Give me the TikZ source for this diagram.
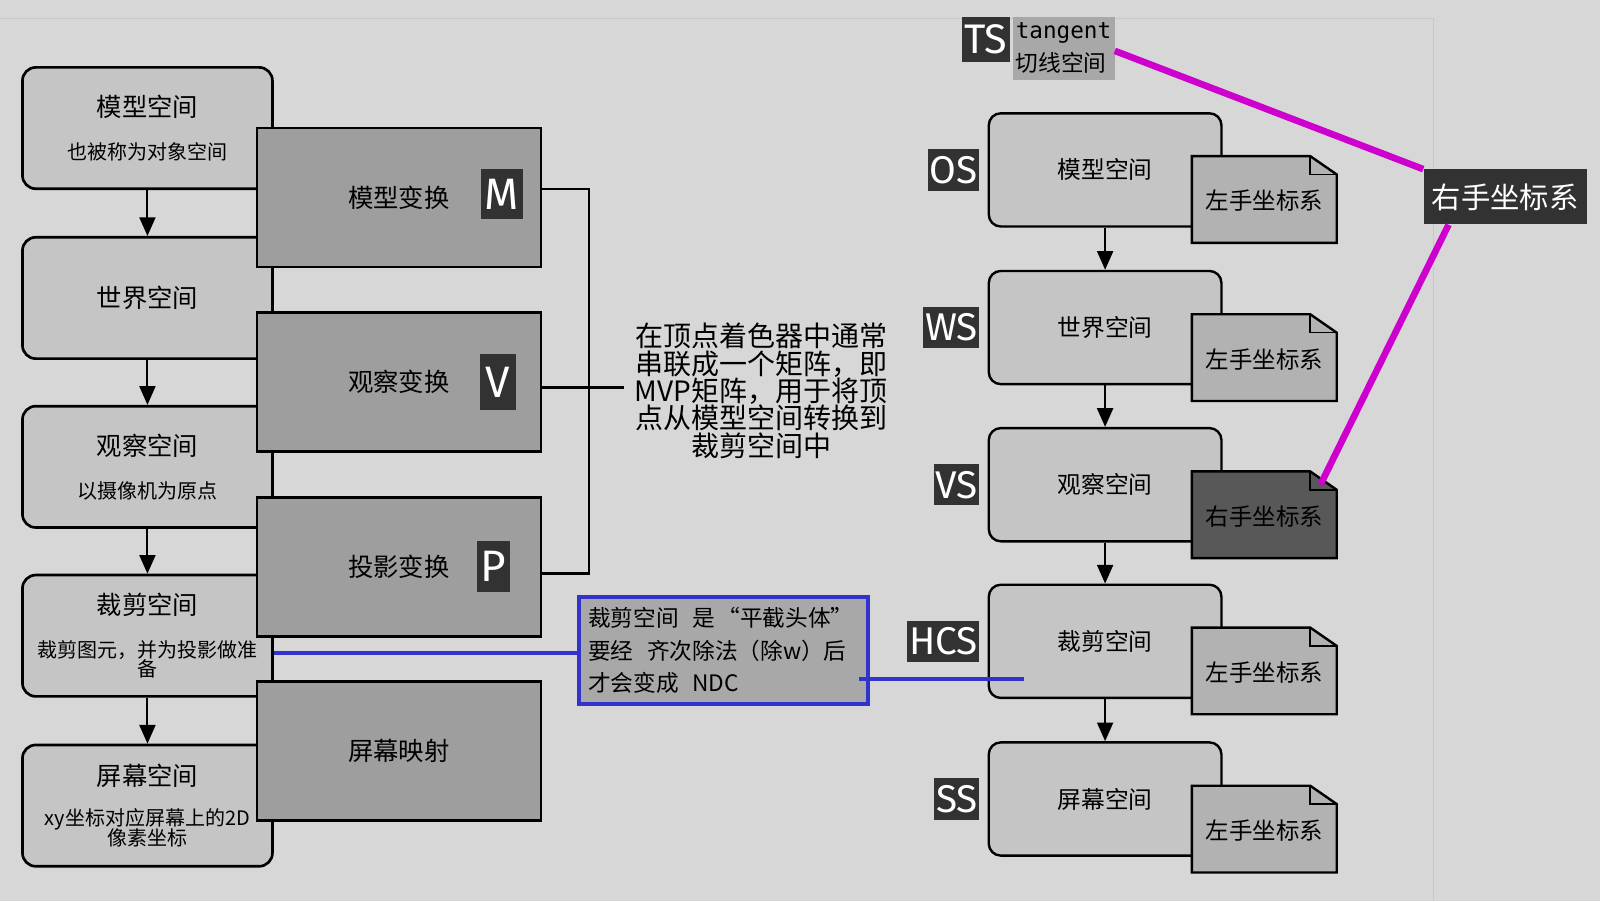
\documentclass[tikz,border=0pt]{standalone}
\usepackage{fontspec}
\setmainfont{Noto Sans CJK SC}
\newfontfamily\badgefont{Fira Sans}
\newfontfamily\tangentfont{DejaVu Sans Mono}
\usetikzlibrary{arrows.meta,positioning}
\lineskiplimit=-100pt

\definecolor{pagegray}{RGB}{215,215,215}
\definecolor{framegray}{RGB}{200,200,200}
\definecolor{boxgray}{RGB}{197,197,197}
\definecolor{xformgray}{RGB}{158,158,158}
\definecolor{badgegray}{RGB}{50,50,50}
\definecolor{docgray}{RGB}{178,178,178}
\definecolor{docdark}{RGB}{88,88,88}
\definecolor{notegray}{RGB}{168,168,168}
\definecolor{linkblue}{RGB}{50,50,205}
\definecolor{linkmagenta}{RGB}{205,0,205}

\begin{document}
\begin{tikzpicture}[x=0.7653pt,y=-0.7653pt,
  spacebox/.style={draw,line width=2pt,rounded corners=10pt,fill=boxgray,minimum width=187.5pt,minimum height=91pt,align=center,font=\fontsize{15pt}{15pt}\selectfont},
  xformbox/.style={draw,line width=2pt,fill=xformgray,minimum width=212.8pt,minimum height=104.1pt,font=\fontsize{19pt}{19pt}\selectfont},
  letterbadge/.style={fill=badgegray,text=white,font=\badgefont\fontsize{33pt}{33pt}\selectfont,inner xsep=3pt,inner ysep=1.5pt,minimum height=38pt},
  tagbadge/.style={fill=badgegray,text=white,font=\badgefont\fontsize{29pt}{29pt}\selectfont,inner sep=1.2pt,minimum height=31pt},
  rspacebox/.style={draw,line width=1.8pt,rounded corners=9pt,fill=boxgray,minimum width=174.5pt,minimum height=84.9pt,font=\fontsize{17.8pt}{17.8pt}\selectfont},
  docpage/.style={draw,line width=1.8pt,fill=#1},
  flow/.style={-{Triangle[length=14pt,width=12pt]},line width=1.5pt},
  bluelink/.style={linkblue,line width=3pt},
  pinklink/.style={linkmagenta,line width=5pt}]
  \useasboundingbox (0,0) rectangle (1568,883);
  \fill[pagegray] (0,0) rectangle (1568,883);
  \draw[framegray,line width=0.8pt] (0,18) -- (1405,18) -- (1405,883);

  % pipeline: spaces
  \node[spacebox] (l1) at (144.5,125.5) {{\fontsize{19pt}{19pt}\selectfont 模型空间}\\[17pt]也被称为对象空间};
  \node[spacebox,font=\fontsize{19pt}{19pt}\selectfont] (l2) at (144.5,292) {世界空间};
  \node[spacebox] (l3) at (144.5,457.5) {{\fontsize{19pt}{19pt}\selectfont 观察空间}\\[17pt]以摄像机为原点};
  \node[spacebox] (l4) at (144.5,623) {{\fontsize{19pt}{19pt}\selectfont 裁剪空间}\\[17pt]裁剪图元，并为投影做准\\[-1pt]备};
  \node[spacebox] (l5) at (144.5,789.5) {{\fontsize{19pt}{19pt}\selectfont 屏幕空间}\\[15pt]xy坐标对应屏幕上的2D\\像素坐标};
  \draw[flow] (l1) -- (l2);
  \draw[flow] (l2) -- (l3);
  \draw[flow] (l3) -- (l4);
  \draw[flow] (l4) -- (l5);

  % pipeline: transforms
  \node[xformbox] (t1) at (391,193.5) {模型变换};
  \node[xformbox] (t2) at (391,374.5) {观察变换};
  \node[xformbox] (t3) at (391,555.5) {投影变换};
  \node[xformbox] (t4) at (391,736) {屏幕映射};
  \node[letterbadge] (mbadge) at (492,190) {M};
  \node[letterbadge,minimum height=42pt,inner xsep=4pt] (vbadge) at (488,374.5) {V};
  \node[letterbadge] (pbadge) at (483.5,555) {P};

  % MVP bracket
  \node[align=center,font=\fontsize{21pt}{20.5pt}\selectfont,inner sep=8pt] (mvp) at (746,383)
    {在顶点着色器中通常\\串联成一个矩阵，即\\MVP矩阵，用于将顶\\点从模型空间转换到\\裁剪空间中};
  \draw[line width=1.6pt] ([yshift=6.5pt]t1.east) -- ++(46,0) |- ([yshift=-5pt]t3.east);
  \draw[line width=1.6pt] ([yshift=-4pt]t2.east) -- ([yshift=-4pt]t2.east -| mvp.west);

  % right: spaces with handedness
  \node[rspacebox] (r1) at (1083,166.5) {模型空间};
  \node[rspacebox] (r2) at (1083,321) {世界空间};
  \node[rspacebox] (r3) at (1083,475) {观察空间};
  \node[rspacebox] (r4) at (1083,628.5) {裁剪空间};
  \node[rspacebox] (r5) at (1083,783) {屏幕空间};
  \draw[flow] (r1) -- (r2);
  \draw[flow] (r2) -- (r3);
  \draw[flow] (r3) -- (r4);
  \draw[flow] (r4) -- (r5);
  \foreach \top/\shade/\txt [count=\i] in {153/docgray/左手坐标系,308/docgray/左手坐标系,462/docdark/右手坐标系,615/docgray/左手坐标系,770/docgray/左手坐标系}{
    \draw[docpage=\shade] (1168,\top) -- (1284,\top) -- (1310,\top+18) -- (1310,\top+85) -- (1168,\top+85) -- cycle;
    \draw[line width=1.2pt] (1284,\top) -- (1284,\top+18) -- (1310,\top+18);
    \node[font=\fontsize{17.6pt}{17.6pt}\selectfont] (d\i) at (1239,\top+44) {\txt};
    \coordinate (fold\i) at (1294,\top+13);
  }
  \node[tagbadge,left=6pt of r1] (os) {OS};
  \node[tagbadge,left=6pt of r2] (ws) {WS};
  \node[tagbadge,left=6pt of r3] (vs) {VS};
  \node[tagbadge,left=6pt of r4] (hcs) {HCS};
  \node[tagbadge,left=6pt of r5] (ss) {SS};

  % tangent space + right-handed
  \node[anchor=north west,fill=notegray,align=left,inner xsep=2pt,minimum width=76.5pt,minimum height=47.4pt,font=\fontsize{17pt}{25pt}\selectfont] (tangent) at (992,16)
    {{\tangentfont tangent}\\切线空间};
  \node[tagbadge,anchor=north east,minimum height=33.7pt,inner xsep=2pt,font=\badgefont\fontsize{31pt}{31pt}\selectfont] (ts) at ([xshift=-1.5pt]tangent.north west) {TS};
  \node[fill=badgegray,text=white,font=\fontsize{22pt}{22pt}\selectfont,minimum width=122.4pt,minimum height=41.3pt] (rhs) at (1475,193) {右手坐标系};
  \draw[pinklink] ([yshift=-2pt]tangent.east) -- (rhs.north west);
  \draw[pinklink] ([xshift=19pt]rhs.south west) -- (fold3);

  % clip space note
  \node[draw=linkblue,line width=3pt,fill=notegray,text width=203pt,inner xsep=7pt,minimum height=80.4pt,align=left,font=\fontsize{17pt}{24.5pt}\selectfont] (ndc) at (709,637.5)
    {裁剪空间\hspace{0.6em}是\hspace{0.1em}“平截头体”\\要经\hspace{0.6em}齐次除法（除w）后\\才会变成\hspace{0.6em}NDC};
  \draw[bluelink] ([yshift=-2pt]ndc.west) -- ([yshift=-2pt]ndc.west -| l4.east);
  \coordinate (hcsin) at ([xshift=27.5pt,yshift=-28pt]r4.west);
  \draw[bluelink,shorten >=-8pt] (hcsin) -- (hcsin -| ndc.east);
\end{tikzpicture}
\end{document}
